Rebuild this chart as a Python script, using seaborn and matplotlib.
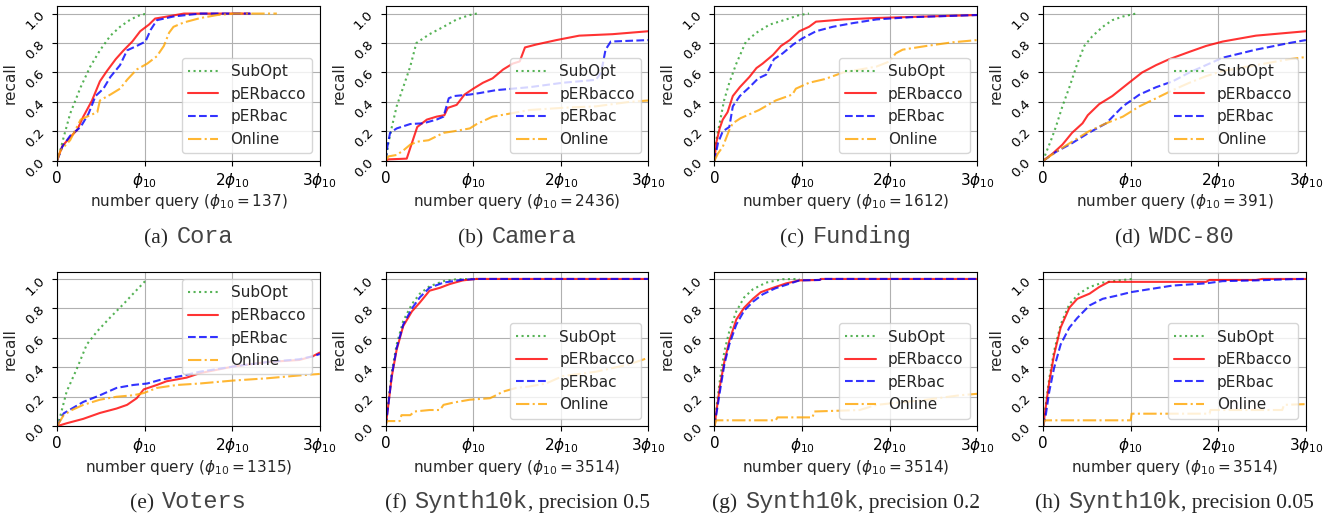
import matplotlib
matplotlib.use("Agg")
import matplotlib.pyplot as plt
import seaborn as sns
from matplotlib.offsetbox import TextArea, HPacker, AnchoredOffsetbox

# x in units of phi_10, y = recall

# (a) Cora
cora_subopt_x = [0, 0.02, 0.076, 0.15, 0.27, 0.38, 0.49, 0.61, 0.72, 0.84, 0.95, 1.03]
cora_subopt_y = [0, 0.03, 0.16, 0.32, 0.50, 0.64, 0.75, 0.85, 0.91, 0.96, 0.99, 1.0]
cora_pbacco_x = [0, 0.06, 0.15, 0.23, 0.30, 0.40, 0.49, 0.57, 0.67, 0.76, 0.86, 0.95, 1.05, 1.12, 1.26, 1.45, 2.2]
cora_pbacco_y = [0, 0.10, 0.16, 0.21, 0.30, 0.41, 0.54, 0.61, 0.69, 0.75, 0.81, 0.88, 0.925, 0.966, 0.98, 1.0, 1.0]
cora_pbac_x = [0, 0.06, 0.15, 0.27, 0.36, 0.44, 0.53, 0.61, 0.72, 0.80, 0.91, 1.01, 1.07, 1.14, 1.33, 1.48, 1.64, 2.21]
cora_pbac_y = [0, 0.095, 0.17, 0.23, 0.32, 0.44, 0.49, 0.57, 0.65, 0.75, 0.78, 0.81, 0.89, 0.955, 0.98, 0.99, 1.0, 1.0]
cora_online_x = [0, 0.04, 0.15, 0.27, 0.38, 0.46, 0.49, 0.61, 0.72, 0.80, 0.91, 1.03, 1.14, 1.22, 1.28, 1.33, 1.45, 1.64, 1.83, 2.02, 2.51]
cora_online_y = [0, 0.07, 0.14, 0.28, 0.31, 0.33, 0.41, 0.45, 0.49, 0.55, 0.62, 0.66, 0.71, 0.78, 0.87, 0.91, 0.94, 0.97, 0.99, 1.0, 1.0]

# (b) Camera
camera_subopt_x = [0, 0.03, 0.07, 0.125, 0.2, 0.28, 0.35, 0.5, 0.66, 0.81, 0.96, 1.04]
camera_subopt_y = [0, 0.12, 0.23, 0.37, 0.5, 0.64, 0.8, 0.86, 0.91, 0.96, 0.99, 1.0]
camera_pbacco_x = [0, 0.03, 0.24, 0.36, 0.47, 0.58, 0.67, 0.71, 0.81, 0.9, 1.0, 1.11, 1.22, 1.34, 1.45, 1.53, 1.59, 1.72, 1.95, 2.21, 2.59, 3.0]
camera_pbacco_y = [0, 0.01, 0.015, 0.23, 0.28, 0.30, 0.31, 0.36, 0.38, 0.45, 0.49, 0.53, 0.56, 0.62, 0.66, 0.675, 0.77, 0.79, 0.82, 0.85, 0.86, 0.88]
camera_pbac_x = [0, 0.02, 0.05, 0.125, 0.28, 0.43, 0.58, 0.66, 0.72, 0.78, 0.96, 1.07, 1.26, 1.64, 2.02, 2.4, 2.46, 2.51, 2.57, 3.0]
camera_pbac_y = [0, 0.1, 0.19, 0.22, 0.25, 0.255, 0.28, 0.30, 0.425, 0.44, 0.45, 0.46, 0.48, 0.50, 0.53, 0.55, 0.6, 0.755, 0.81, 0.82]
camera_online_x = [0, 0.03, 0.125, 0.2, 0.28, 0.36, 0.49, 0.66, 0.77, 0.96, 1.04, 1.22, 1.41, 1.64, 2.02, 2.4, 2.78, 3.0]
camera_online_y = [0, 0.03, 0.04, 0.07, 0.11, 0.13, 0.14, 0.19, 0.2, 0.22, 0.25, 0.3, 0.32, 0.345, 0.36, 0.37, 0.4, 0.41]

# (c) Funding
funding_subopt_x = [0, 0.02, 0.06, 0.11, 0.17, 0.25, 0.36, 0.48, 0.63, 0.82, 0.97, 1.08]
funding_subopt_y = [0, 0.14, 0.255, 0.41, 0.53, 0.66, 0.81, 0.87, 0.925, 0.96, 0.99, 1.0]
funding_pbacco_x = [0, 0.02, 0.06, 0.095, 0.15, 0.21, 0.29, 0.4, 0.48, 0.55, 0.67, 0.76, 0.86, 0.97, 1.08, 1.16, 1.47, 1.85, 2.42, 3.0]
funding_pbacco_y = [0, 0.12, 0.22, 0.28, 0.33, 0.44, 0.50, 0.57, 0.63, 0.66, 0.72, 0.78, 0.82, 0.88, 0.91, 0.945, 0.96, 0.97, 0.98, 0.99]
funding_pbac_x = [0, 0.04, 0.095, 0.17, 0.21, 0.29, 0.4, 0.5, 0.59, 0.68, 0.78, 0.9, 1.0, 1.16, 1.35, 1.58, 1.85, 2.23, 3.0]
funding_pbac_y = [0, 0.12, 0.2, 0.23, 0.37, 0.44, 0.5, 0.56, 0.585, 0.69, 0.73, 0.79, 0.83, 0.88, 0.91, 0.935, 0.96, 0.975, 0.99]
funding_online_x = [0, 0.04, 0.095, 0.17, 0.21, 0.3, 0.51, 0.7, 0.89, 0.93, 1.08, 1.26, 1.47, 1.66, 1.85, 2.0, 2.07, 2.15, 2.42, 2.72, 3.0]
funding_online_y = [0, 0.05, 0.095, 0.21, 0.255, 0.29, 0.345, 0.41, 0.45, 0.49, 0.53, 0.555, 0.6, 0.62, 0.64, 0.675, 0.73, 0.755, 0.78, 0.805, 0.82]

# (d) WDC-80
wdc_subopt_x = [0, 0.03, 0.09, 0.145, 0.22, 0.3, 0.39, 0.47, 0.56, 0.68, 0.79, 0.91, 1.06]
wdc_subopt_y = [0, 0.05, 0.14, 0.23, 0.37, 0.5, 0.66, 0.78, 0.845, 0.91, 0.955, 0.98, 1.0]
wdc_pbacco_x = [0, 0.11, 0.22, 0.33, 0.45, 0.51, 0.64, 0.79, 0.98, 1.13, 1.29, 1.44, 1.67, 1.86, 2.05, 2.43, 2.81, 3.0]
wdc_pbacco_y = [0, 0.05, 0.11, 0.19, 0.255, 0.31, 0.385, 0.44, 0.53, 0.6, 0.65, 0.69, 0.74, 0.78, 0.81, 0.85, 0.87, 0.88]
wdc_pbac_x = [0, 0.145, 0.33, 0.52, 0.72, 0.91, 1.1, 1.29, 1.48, 1.67, 1.86, 2.05, 2.43, 2.81, 3.0]
wdc_pbac_y = [0, 0.06, 0.12, 0.19, 0.255, 0.37, 0.45, 0.5, 0.54, 0.6, 0.65, 0.70, 0.755, 0.8, 0.82]
wdc_online_x = [0, 0.145, 0.33, 0.52, 0.72, 0.91, 1.1, 1.29, 1.48, 1.67, 1.86, 2.05, 2.43, 2.81, 3.0]
wdc_online_y = [0, 0.06, 0.13, 0.2, 0.255, 0.3, 0.37, 0.425, 0.48, 0.53, 0.575, 0.61, 0.65, 0.69, 0.705]

# (e) Voters
voters_subopt_x = [0, 0.04, 0.11, 0.23, 0.34, 0.46, 0.61, 0.76, 0.87, 1.03]
voters_subopt_y = [0, 0.075, 0.235, 0.395, 0.555, 0.645, 0.74, 0.83, 0.9, 1.0]
voters_pbacco_x = [0, 0.11, 0.3, 0.49, 0.68, 0.8, 0.91, 0.99, 1.14, 1.25, 1.48, 1.63, 2.01, 2.39, 2.77, 2.92, 3.0]
voters_pbacco_y = [0, 0.02, 0.05, 0.09, 0.12, 0.145, 0.19, 0.25, 0.28, 0.305, 0.33, 0.36, 0.405, 0.435, 0.45, 0.475, 0.5]
voters_pbac_x = [0, 0.076, 0.17, 0.3, 0.49, 0.68, 0.87, 1.03, 1.18, 1.41, 1.63, 2.01, 2.39, 2.77, 2.92, 3.0]
voters_pbac_y = [0, 0.087, 0.12, 0.165, 0.21, 0.26, 0.28, 0.29, 0.315, 0.34, 0.37, 0.405, 0.435, 0.455, 0.475, 0.49]
voters_online_x = [0, 0.076, 0.17, 0.3, 0.49, 0.68, 0.87, 0.99, 1.14, 1.37, 1.63, 2.01, 2.39, 2.77, 3.0]
voters_online_y = [0, 0.075, 0.11, 0.145, 0.18, 0.2, 0.21, 0.225, 0.26, 0.28, 0.29, 0.31, 0.325, 0.345, 0.355]

# (f) Synth10k, precision 0.5
s05_subopt_x = [0, 0.03, 0.07, 0.125, 0.2, 0.3, 0.39, 0.5, 0.66, 0.81, 1.0, 1.05]
s05_subopt_y = [0, 0.165, 0.37, 0.555, 0.715, 0.83, 0.9, 0.95, 0.985, 0.998, 1.0, 1.0]
s05_pbacco_x = [0, 0.03, 0.07, 0.125, 0.2, 0.3, 0.39, 0.5, 0.62, 0.73, 0.88, 1.03, 3.0]
s05_pbacco_y = [0, 0.145, 0.34, 0.52, 0.68, 0.78, 0.84, 0.92, 0.94, 0.965, 0.99, 1.0, 1.0]
s05_pbac_x = [0, 0.03, 0.07, 0.125, 0.2, 0.3, 0.39, 0.5, 0.66, 0.88, 1.07, 3.0]
s05_pbac_y = [0, 0.145, 0.35, 0.53, 0.69, 0.8, 0.875, 0.94, 0.975, 0.995, 1.0, 1.0]
s05_online_x = [0, 0.01, 0.03, 0.16, 0.18, 0.28, 0.33, 0.5, 0.62, 0.66, 0.77, 0.96, 1.19, 1.26, 1.34, 1.49, 1.64, 1.83, 2.02, 2.4, 2.59, 2.78, 3.0]
s05_online_y = [0, 0.03, 0.035, 0.035, 0.075, 0.075, 0.1, 0.11, 0.11, 0.145, 0.16, 0.18, 0.19, 0.21, 0.235, 0.26, 0.27, 0.29, 0.34, 0.37, 0.395, 0.42, 0.465]

# (g) Synth10k, precision 0.2
s02_subopt_x = [0, 0.027, 0.065, 0.114, 0.17, 0.25, 0.34, 0.44, 0.59, 0.78, 0.97]
s02_subopt_y = [0, 0.145, 0.325, 0.51, 0.645, 0.78, 0.875, 0.93, 0.975, 0.998, 1.0]
s02_pbacco_x = [0, 0.027, 0.065, 0.114, 0.17, 0.25, 0.34, 0.44, 0.53, 0.67, 0.82, 0.97, 1.2, 1.22, 3.0]
s02_pbacco_y = [0, 0.12, 0.28, 0.44, 0.58, 0.725, 0.805, 0.865, 0.91, 0.94, 0.97, 0.99, 0.993, 1.0, 1.0]
s02_pbac_x = [0, 0.027, 0.065, 0.114, 0.17, 0.25, 0.34, 0.44, 0.55, 0.69, 0.82, 0.97, 1.2, 1.22, 3.0]
s02_pbac_y = [0, 0.1, 0.245, 0.42, 0.555, 0.69, 0.785, 0.845, 0.895, 0.935, 0.96, 0.99, 0.993, 1.0, 1.0]
s02_online_x = [0, 0.01, 0.02, 0.7, 0.72, 1.12, 1.14, 1.66, 1.85, 2.42, 2.8, 3.0]
s02_online_y = [0, 0.02, 0.04, 0.04, 0.06, 0.06, 0.1, 0.11, 0.145, 0.18, 0.21, 0.22]

# (h) Synth10k, precision 0.05
s005_subopt_x = [0, 0.03, 0.07, 0.125, 0.2, 0.3, 0.41, 0.53, 0.68, 0.87, 1.02]
s005_subopt_y = [0, 0.145, 0.325, 0.51, 0.69, 0.83, 0.9, 0.945, 0.975, 0.99, 1.0]
s005_pbacco_x = [0, 0.03, 0.07, 0.125, 0.2, 0.3, 0.39, 0.53, 0.64, 0.75, 0.91, 1.86, 1.9, 2.43, 2.5, 3.0]
s005_pbacco_y = [0, 0.13, 0.3, 0.485, 0.67, 0.805, 0.865, 0.9, 0.945, 0.98, 0.98, 0.98, 0.993, 0.993, 1.0, 1.0]
s005_pbac_x = [0, 0.03, 0.07, 0.125, 0.2, 0.3, 0.39, 0.53, 0.68, 0.83, 1.0, 1.21, 1.48, 1.86, 2.05, 2.43, 2.81, 3.0]
s005_pbac_y = [0, 0.075, 0.235, 0.395, 0.555, 0.67, 0.735, 0.82, 0.865, 0.885, 0.91, 0.93, 0.955, 0.97, 0.985, 0.99, 0.998, 1.0]
s005_online_x = [0, 0.01, 0.02, 1.0, 1.01, 1.9, 1.91, 2.73, 2.75, 3.0]
s005_online_y = [0, 0.03, 0.04, 0.04, 0.085, 0.085, 0.11, 0.11, 0.145, 0.15]

methods = ["SubOpt", "pERbacco", "pERbac", "Online"]
colors = {"SubOpt": "tab:green", "pERbacco": "red", "pERbac": "blue", "Online": "orange"}
styles = {"SubOpt": ":", "pERbacco": "-", "pERbac": "--", "Online": "-."}

# letter, dataset, suffix, phi_10, legend loc, series
panels = [
    ("(a)", "Cora", "", 137, "lower right",
     [(cora_subopt_x, cora_subopt_y), (cora_pbacco_x, cora_pbacco_y), (cora_pbac_x, cora_pbac_y), (cora_online_x, cora_online_y)]),
    ("(b)", "Camera", "", 2436, "lower right",
     [(camera_subopt_x, camera_subopt_y), (camera_pbacco_x, camera_pbacco_y), (camera_pbac_x, camera_pbac_y), (camera_online_x, camera_online_y)]),
    ("(c)", "Funding", "", 1612, "lower right",
     [(funding_subopt_x, funding_subopt_y), (funding_pbacco_x, funding_pbacco_y), (funding_pbac_x, funding_pbac_y), (funding_online_x, funding_online_y)]),
    ("(d)", "WDC-80", "", 391, "lower right",
     [(wdc_subopt_x, wdc_subopt_y), (wdc_pbacco_x, wdc_pbacco_y), (wdc_pbac_x, wdc_pbac_y), (wdc_online_x, wdc_online_y)]),
    ("(e)", "Voters", "", 1315, "upper right",
     [(voters_subopt_x, voters_subopt_y), (voters_pbacco_x, voters_pbacco_y), (voters_pbac_x, voters_pbac_y), (voters_online_x, voters_online_y)]),
    ("(f)", "Synth10k", ", precision 0.5", 3514, "lower right",
     [(s05_subopt_x, s05_subopt_y), (s05_pbacco_x, s05_pbacco_y), (s05_pbac_x, s05_pbac_y), (s05_online_x, s05_online_y)]),
    ("(g)", "Synth10k", ", precision 0.2", 3514, "lower right",
     [(s02_subopt_x, s02_subopt_y), (s02_pbacco_x, s02_pbacco_y), (s02_pbac_x, s02_pbac_y), (s02_online_x, s02_online_y)]),
    ("(h)", "Synth10k", ", precision 0.05", 3514, "lower right",
     [(s005_subopt_x, s005_subopt_y), (s005_pbacco_x, s005_pbacco_y), (s005_pbac_x, s005_pbac_y), (s005_online_x, s005_online_y)]),
]

sns.set_style("ticks")
plt.rcParams["font.family"] = ["DejaVu Sans"]
plt.rcParams["axes.edgecolor"] = "black"
plt.rcParams["xtick.color"] = "black"
plt.rcParams["ytick.color"] = "black"

fig, axes = plt.subplots(2, 4, figsize=(13.38, 5.16), dpi=100)
fig.subplots_adjust(left=0.0426, right=0.976, top=0.988, bottom=0.174, wspace=0.251, hspace=0.716)

for ax, (letter, name, suffix, phi, loc, series) in zip(axes.flat, panels):
    for m, (xs, ys) in zip(methods, series):
        sns.lineplot(x=xs, y=ys, ax=ax, color=colors[m], linestyle=styles[m], label=m,
                     estimator=None, sort=False, alpha=0.8, linewidth=1.5)
    ax.set_xlim(0, 3)
    ax.set_ylim(0, 1.05)
    ax.set_xticks([0, 1, 2, 3])
    ax.set_xticklabels(["0", r"$\phi_{10}$", r"$2\phi_{10}$", r"$3\phi_{10}$"], fontsize=11)
    ax.set_yticks([0, 0.2, 0.4, 0.6, 0.8, 1.0])
    ax.set_yticklabels(["0.0", "0.2", "0.4", "0.6", "0.8", "1.0"], fontsize=9.5, rotation=45)
    ax.grid(True, color="#b0b0b0", linewidth=0.8)
    ax.set_xlabel(r"number query ($\phi_{10} = %d$)" % phi, fontsize=11, labelpad=2)
    ax.set_ylabel("recall", fontsize=11)
    ax.legend(loc=loc, fontsize=11)

    # caption: serif letter + monospace dataset name (+ serif suffix)
    parts = [TextArea(letter, textprops=dict(family="Liberation Serif", size=15.5))]
    inner = [TextArea(name, textprops=dict(family="Liberation Mono", size=17, color="#444444"))]
    if suffix:
        inner.append(TextArea(suffix, textprops=dict(family="Liberation Serif", size=15.5)))
    parts.append(HPacker(children=inner, align="baseline", pad=0, sep=0))
    box = HPacker(children=parts, align="baseline", pad=0, sep=6)
    anchored = AnchoredOffsetbox(loc="center", child=box, pad=0, borderpad=0, frameon=False,
                                 bbox_to_anchor=(0.5, -0.49), bbox_transform=ax.transAxes)
    ax.add_artist(anchored)

fig.savefig("out.png", dpi=100)
